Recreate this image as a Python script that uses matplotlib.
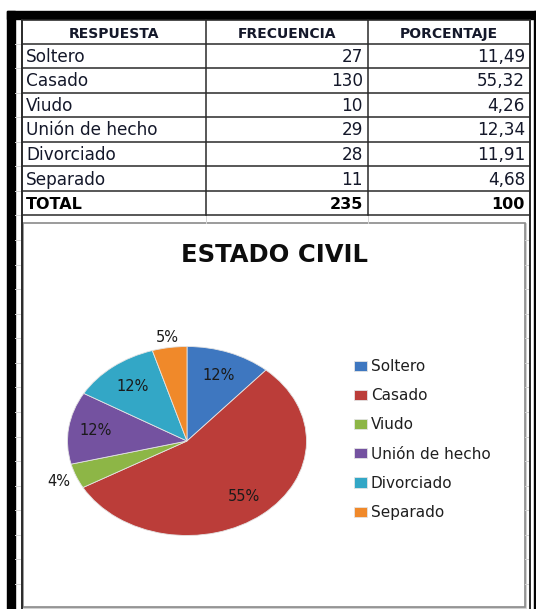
import matplotlib
matplotlib.use("Agg")
import matplotlib.pyplot as plt
from matplotlib.patches import Rectangle
import numpy as np

# table data
headers = ["RESPUESTA", "FRECUENCIA", "PORCENTAJE"]
respuesta = ["Soltero", "Casado", "Viudo", "Unión de hecho", "Divorciado", "Separado"]
frecuencia = [27, 130, 10, 29, 28, 11]
porcentaje = ["11,49", "55,32", "4,26", "12,34", "11,91", "4,68"]
total_frec = "235"
total_pct = "100"

# chart
title = "ESTADO CIVIL"
pie_labels = ["12%", "55%", "4%", "12%", "12%", "5%"]
colors = ["#3e77c0", "#bb3d39", "#8db646", "#7452a0", "#33a7c6", "#f0892a"]
label_dist = [0.74, 0.76, 1.16, 0.77, 0.73, 1.11]

W, H = 536, 609
DPI = 100

fig = plt.figure(figsize=(W / DPI, H / DPI), dpi=DPI)
fig.patch.set_facecolor("white")

# background axes in pixel units (y down) for the sheet / table
bg = fig.add_axes([0, 0, 1, 1])
bg.set_xlim(0, W)
bg.set_ylim(H, 0)
bg.axis("off")

col_x = [21.5, 205.5, 368, 530]
row_top = 19.5
head_h = 24
row_h = 24.57
n_rows = len(respuesta) + 1
row_y = [row_top, row_top + head_h] + [row_top + head_h + row_h * (i + 1) for i in range(n_rows)]

# faint spreadsheet gridlines at the sides
y = row_top + head_h
while y < H:
    bg.plot([15, col_x[0]], [y, y], color="#d4d4d4", lw=0.7)
    if y > row_y[-1]:
        bg.plot([524.5, col_x[-1]], [y, y], color="#d4d4d4", lw=0.7)
    y += row_h
for cx_ in col_x[1:3]:
    bg.plot([cx_, cx_], [row_y[-1], 222.5], color="#d4d4d4", lw=0.7)

# table grid
for yy in row_y:
    bg.plot([col_x[0], col_x[-1]], [yy, yy], color="#2a2a2a", lw=1.1)
for i, xx in enumerate(col_x):
    y1 = H if i in (0, len(col_x) - 1) else row_y[-1]
    bg.plot([xx, xx], [row_top, y1], color="#2a2a2a", lw=1.4 if i in (0, 3) else 1.1)

txt_col = "#14182a"
# header
for j, h in enumerate(headers):
    bg.text((col_x[j] + col_x[j + 1]) / 2, row_y[1] - 5.2, h, ha="center", va="baseline",
            fontsize=10, fontweight="bold", color=txt_col)

# body rows
for i in range(len(respuesta)):
    base = row_y[i + 2] - 6.3
    bg.text(col_x[0] + 4.5, base, respuesta[i], ha="left", va="baseline", fontsize=12.2, color=txt_col)
    bg.text(col_x[2] - 5, base, str(frecuencia[i]), ha="right", va="baseline", fontsize=12.2, color=txt_col)
    bg.text(col_x[3] - 5, base, porcentaje[i], ha="right", va="baseline", fontsize=12.2, color=txt_col)

base = row_y[-1] - 6.3
bg.text(col_x[0] + 4.5, base, "TOTAL", ha="left", va="baseline", fontsize=11.5, fontweight="bold", color="black")
bg.text(col_x[2] - 5, base, total_frec, ha="right", va="baseline", fontsize=11.5, fontweight="bold", color="black")
bg.text(col_x[3] - 5, base, total_pct, ha="right", va="baseline", fontsize=11.5, fontweight="bold", color="black")

# thick black frame
bg.add_patch(Rectangle((7, 11), W - 7, 8, color="black"))
bg.add_patch(Rectangle((7, 11), 8, H - 11, color="black"))
bg.add_patch(Rectangle((533.5, 11), 3, H - 11, color="black"))

# chart area box
bg.add_patch(Rectangle((24, 224), 502, 384, facecolor="none", edgecolor="#c8c8c8", lw=1.2))
bg.add_patch(Rectangle((22.5, 222.5), 502, 384, facecolor="white", edgecolor="#8a8a8a", lw=1.2))

bg.text(274.6, 261.8, title, ha="center", va="baseline", fontsize=17.5, fontweight="bold", color="#0d0d0d")

# pie (elliptical, like the tilted Excel pie)
cx, cy, rx, ry = 187, 441, 119.5, 94.5
ax = fig.add_axes([(cx - rx) / W, (H - (cy + ry)) / H, 2 * rx / W, 2 * ry / H])
wedges, _ = ax.pie(frecuencia, colors=colors, startangle=90, counterclock=False,
                   wedgeprops=dict(edgecolor="#e4e4e4", linewidth=0.6))
ax.set_aspect("auto")
ax.set_xlim(-1, 1)
ax.set_ylim(-1, 1)
ax.axis("off")

for w, lab, d in zip(wedges, pie_labels, label_dist):
    mid = np.deg2rad((w.theta1 + w.theta2) / 2)
    ax.text(d * np.cos(mid), d * np.sin(mid), lab, ha="center", va="center",
            fontsize=10.5, color="#1a1a1a")

fig.legend(wedges, respuesta, loc="center left", bbox_to_anchor=(354 / W, 1 - 439.5 / H),
           frameon=False, borderpad=0, borderaxespad=0, handlelength=0.85, handleheight=0.65,
           handletextpad=0.25, labelspacing=0.93, fontsize=11, labelcolor="#1f1f1f")

fig.savefig("out.png", dpi=DPI)
